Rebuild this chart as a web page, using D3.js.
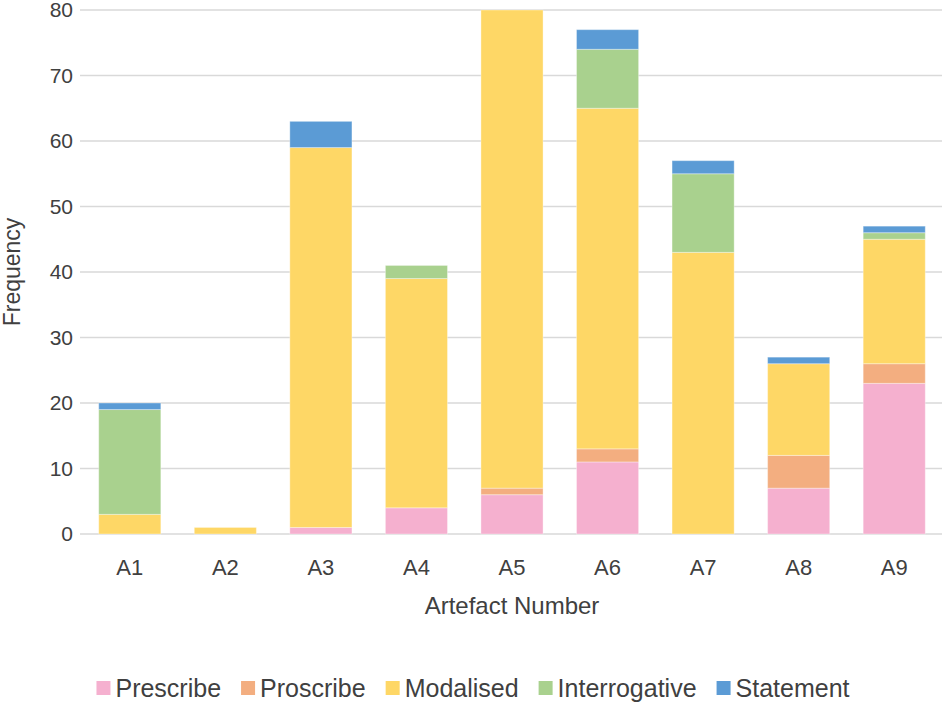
<!DOCTYPE html>
<html>
<head>
<meta charset="utf-8">
<script src="https://cdn.jsdelivr.net/npm/d3@7"></script>
<style>
  body { margin: 0; background: #fff; }
  svg { font-family: "Liberation Sans", Arial, Helvetica, sans-serif; }
</style>
</head>
<body>
<svg id="chart" width="942" height="702"></svg>
<script>
// chart data
const artefacts = ["A1", "A2", "A3", "A4", "A5", "A6", "A7", "A8", "A9"];
const seriesNames = ["Prescribe", "Proscribe", "Modalised", "Interrogative", "Statement"];
const prescribe     = [0, 0, 1, 4, 6, 11, 0, 7, 23];
const proscribe     = [0, 0, 0, 0, 1, 2, 0, 5, 3];
const modalised     = [3, 1, 58, 35, 73, 52, 43, 14, 19];
const interrogative = [16, 0, 0, 2, 0, 9, 12, 0, 1];
const statement     = [1, 0, 4, 0, 0, 3, 2, 1, 1];
const yTicks = [0, 10, 20, 30, 40, 50, 60, 70, 80];
const colors = ["#f5b0cf", "#f3ae80", "#fed766", "#a9d18e", "#5b9bd5"];

const svg = d3.select("#chart");
const margin = { top: 10, right: 0, bottom: 168, left: 82 };
const W = 942, H = 702;

// build rows for stacking
const rows = artefacts.map((a, i) => ({
  name: a,
  Prescribe: prescribe[i],
  Proscribe: proscribe[i],
  Modalised: modalised[i],
  Interrogative: interrogative[i],
  Statement: statement[i]
}));
const stacked = d3.stack().keys(seriesNames)(rows);

const x = d3.scaleBand()
  .domain(artefacts)
  .range([margin.left, W - margin.right])
  .paddingInner(0.35)
  .paddingOuter(0.175);

const y = d3.scaleLinear()
  .domain([0, 80])
  .range([H - margin.bottom, margin.top]);

const color = d3.scaleOrdinal().domain(seriesNames).range(colors);

// gridlines
svg.append("g")
  .selectAll("line")
  .data(yTicks)
  .join("line")
  .attr("x1", margin.left - 2)
  .attr("x2", W)
  .attr("y1", d => y(d))
  .attr("y2", d => y(d))
  .attr("stroke", "#d9d9d9")
  .attr("stroke-width", 1.5);

// y axis labels
const yAxis = svg.append("g")
  .attr("transform", `translate(${margin.left - 9},0)`)
  .call(d3.axisLeft(y).tickValues(yTicks).tickSize(0).tickPadding(0));
yAxis.select(".domain").remove();
yAxis.selectAll("text")
  .attr("font-size", 21)
  .attr("fill", "#404040")
  .attr("font-family", "Liberation Sans, Arial, sans-serif");

// bars
svg.append("g")
  .selectAll("g")
  .data(stacked)
  .join("g")
  .attr("fill", d => color(d.key))
  .selectAll("rect")
  .data(d => d.filter(s => s[1] - s[0] > 0))
  .join("rect")
  .attr("x", d => x(d.data.name))
  .attr("width", x.bandwidth())
  .attr("y", d => y(d[1]))
  .attr("height", d => y(d[0]) - y(d[1]))
  .attr("stroke", "#ffffff")
  .attr("stroke-opacity", 0.35)
  .attr("stroke-width", 1);

// x axis labels
const xAxis = svg.append("g")
  .attr("transform", `translate(0,${H - margin.bottom + 33})`)
  .call(d3.axisBottom(x).tickSize(0).tickPadding(0));
xAxis.select(".domain").remove();
xAxis.selectAll("text")
  .attr("font-size", 22)
  .attr("fill", "#404040")
  .attr("dy", "0.35em")
  .attr("y", 0)
  .attr("font-family", "Liberation Sans, Arial, sans-serif");

// axis titles
svg.append("text")
  .attr("x", 512)
  .attr("y", 614)
  .attr("text-anchor", "middle")
  .attr("font-size", 24)
  .attr("fill", "#404040")
  .text("Artefact Number");

svg.append("text")
  .attr("transform", "translate(20,272) rotate(-90)")
  .attr("text-anchor", "middle")
  .attr("font-size", 23)
  .attr("fill", "#404040")
  .text("Frequency");

// legend
const legend = svg.append("g").attr("transform", "translate(0,688)");
let lx = 0;
const items = legend.selectAll("g")
  .data(seriesNames)
  .join("g");
items.append("rect")
  .attr("y", -7)
  .attr("width", 14)
  .attr("height", 14)
  .attr("fill", d => color(d));
items.append("text")
  .attr("x", 19)
  .attr("dy", "0.36em")
  .attr("font-size", 25)
  .attr("fill", "#404040")
  .text(d => d);
items.each(function () {
  const g = d3.select(this);
  g.attr("transform", `translate(${lx},0)`);
  lx += 19 + g.select("text").node().getComputedTextLength() + 20;
});
const legendWidth = lx - 20;
legend.attr("transform", `translate(${(W - legendWidth) / 2 + 2},688)`);
</script>
</body>
</html>
